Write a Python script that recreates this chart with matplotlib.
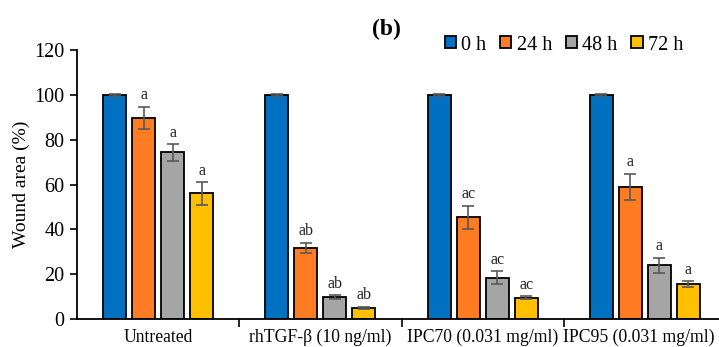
import matplotlib
matplotlib.use("Agg")
import matplotlib.pyplot as plt
import numpy as np

plt.rcParams['font.family'] = ['Liberation Serif', 'DejaVu Serif']

groups = ["Untreated", "rhTGF-β (10 ng/ml)", "IPC70 (0.031 mg/ml)", "IPC95 (0.031 mg/ml)"]
series = ["0 h", "24 h", "48 h", "72 h"]
values = {
    "0 h": [100, 100, 100, 100],
    "24 h": [89.7, 31.8, 45.3, 58.9],
    "48 h": [74.3, 9.8, 18.4, 23.9],
    "72 h": [56.0, 4.9, 9.5, 15.6],
}
errors = {
    "0 h": [0.4, 0.4, 0.4, 0.4],
    "24 h": [5.0, 2.3, 5.2, 6.0],
    "48 h": [3.8, 0.8, 3.0, 3.4],
    "72 h": [5.0, 0.6, 0.7, 1.4],
}
letters = {
    "0 h": ["", "", "", ""],
    "24 h": ["a", "ab", "ac", "a"],
    "48 h": ["a", "ab", "ac", "a"],
    "72 h": ["a", "ab", "ac", "a"],
}
colors = ["#0070C0", "#FF7C22", "#A5A5A5", "#FFC000"]

fig = plt.figure(figsize=(7.19, 3.47), dpi=100)
ax = fig.add_axes([77/719, 1-319/347, (726-77)/719, (319-50)/347])

x = np.arange(len(groups))
width = 0.142
step = 0.179
for k, s in enumerate(series):
    pos = x + (k - 1.5) * step
    ax.bar(pos, values[s], width, color=colors[k], edgecolor='black', linewidth=1.3,
           label=s, zorder=2)
    ax.errorbar(pos, values[s], yerr=errors[s], fmt='none', ecolor='#595959',
                elinewidth=1.2, capsize=4, capthick=1.2, zorder=3)
    for p, v, e, t in zip(pos, values[s], errors[s], letters[s]):
        if t:
            ax.text(p, v + e + 1.5, t, ha='center', va='bottom', fontsize=11.5, color='#222222')

ax.set_xlim(-0.5, len(groups) - 0.5)
ax.set_ylim(0, 120)
ax.set_yticks(np.arange(0, 121, 20))
ax.tick_params(axis='y', labelsize=14.5, direction='out', length=5, width=1.2, pad=4)
ax.set_xticks(np.arange(len(groups) - 1) + 0.5)
ax.set_xticklabels([])
ax.tick_params(axis='x', direction='out', length=6, width=1.2)
for i, g in enumerate(groups):
    xi = i if i < len(groups) - 1 else i - 0.04
    ax.text(xi, -4.3, g, ha='center', va='top', fontsize=12.7, transform=ax.transData)
ax.set_ylabel("Wound area (%)", fontsize=14, labelpad=3)
ax.spines['top'].set_visible(False)
ax.spines['right'].set_visible(False)
ax.spines['left'].set_linewidth(1.3)
ax.spines['bottom'].set_linewidth(1.3)

fig.text(386/719, 1-29/347, "(b)", fontsize=17, fontweight='bold', ha='center', va='center')
fig.legend(loc='center', bbox_to_anchor=(564/719, 1-45/347), ncol=4, frameon=False,
           fontsize=14.5, handlelength=0.55, handleheight=0.55, handletextpad=0.25,
           columnspacing=0.7, borderaxespad=0)

fig.savefig("out.png", dpi=100)
